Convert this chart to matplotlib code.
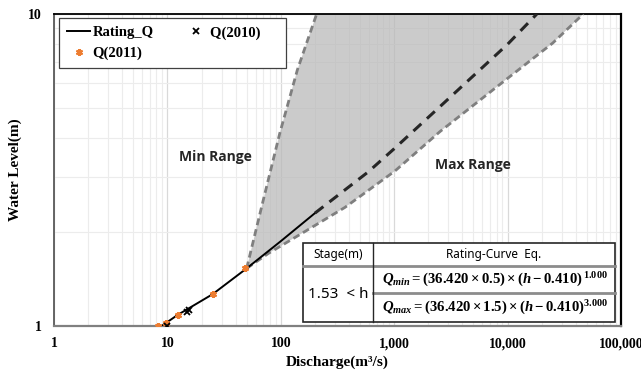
import numpy as np
import matplotlib
matplotlib.use('Agg')
import matplotlib.pyplot as plt
from matplotlib.ticker import FixedLocator, FixedFormatter, LogLocator, NullFormatter
from matplotlib.patches import Rectangle
from matplotlib.lines import Line2D

# ---------------- data ----------------
rating_Q = [8.9, 12.3, 25.0, 50.0, 100.0, 200.0]
rating_h = [1.0, 1.085, 1.264, 1.53, 1.87, 2.30]
rating_ext_Q = [200.0, 591.0, 1000.0, 2535.0, 10000.0, 18100.0]
rating_ext_h = [2.30, 3.12, 3.70, 5.05, 8.0, 10.0]
min_Q = [50.0, 70.0, 98.0, 140.0, 207.0]
min_h = [1.53, 2.53, 4.15, 6.62, 10.0]
max_Q = [50.0, 78.0, 153.0, 368.0, 1016.0, 2535.0, 10000.0, 25000.0, 46500.0]
max_h = [1.53, 1.71, 1.98, 2.40, 3.14, 4.20, 6.22, 8.07, 10.0]
q2010_Q = [10.0, 14.8, 15.6]
q2010_h = [1.0, 1.106, 1.125]
q2011_Q = [8.3, 9.7, 12.3, 25.1, 48.5]
q2011_h = [1.0, 1.02, 1.085, 1.264, 1.53]
x_ticks = [1, 10, 100, 1000, 10000, 100000]
x_tick_labels = ['1', '10', '100', '1,000', '10,000', '100,000']
y_ticks = [1, 10]
y_tick_labels = ['1', '10']
table_header = ['Stage(m)', 'Rating-Curve  Eq.']
table_stage = '1.53  < h'
eq_min = r'$Q_{min} = (36.420 \times 0.5) \times (h - 0.410)^{\,1.000}$'
eq_max = r'$Q_{max} = (36.420 \times 1.5) \times (h - 0.410)^{3.000}$'

# ---------------- style ----------------
plt.rcParams['mathtext.fontset'] = 'custom'
plt.rcParams['mathtext.rm'] = 'Liberation Serif:bold'
plt.rcParams['mathtext.bf'] = 'Liberation Serif:bold'
plt.rcParams['mathtext.it'] = 'Liberation Serif:italic:bold'

serif = 'Liberation Serif'
sans = 'Noto Sans'
sans_bold = ['Open Sans', 'DejaVu Sans']
orange = '#ED7D31'

fig = plt.figure(figsize=(6.41, 3.77), dpi=100)
ax = fig.add_axes([54/641, 51/377, 567/641, 312/377])
ax.set_xscale('log')
ax.set_yscale('log')
ax.set_xlim(1, 100000)
ax.set_ylim(1, 10)

# shaded range
ax.fill(np.concatenate([min_Q, max_Q[::-1]]), np.concatenate([min_h, max_h[::-1]]),
        color='#b8b8b8', alpha=0.72, lw=0, zorder=2)
ax.plot(min_Q, min_h, color='#7f7f7f', lw=2.0, ls=(0, (2.5, 1.5)), zorder=3)
ax.plot(max_Q, max_h, color='#7f7f7f', lw=2.0, ls=(0, (2.5, 1.5)), zorder=3)

# rating curve
l_rating, = ax.plot(rating_Q, rating_h, color='black', lw=1.4, zorder=4, label='Rating_Q')
ax.plot(rating_ext_Q, rating_ext_h, color='#262626', lw=2.2, ls=(0, (3.5, 2.5)), zorder=4)

m2010, = ax.plot(q2010_Q, q2010_h, ls='none', marker='x', color='black', ms=4.5, mew=1.3,
                 zorder=6, label='Q(2010)     ')
m2011, = ax.plot(q2011_Q, q2011_h, ls='none', marker=(6, 2, 0), color=orange, ms=5, mew=1.5,
                 zorder=5, label='Q(2011)')

# grid
ax.xaxis.set_major_locator(FixedLocator(x_ticks))
ax.xaxis.set_major_formatter(FixedFormatter(x_tick_labels))
ax.yaxis.set_major_locator(FixedLocator(y_ticks))
ax.yaxis.set_major_formatter(FixedFormatter(y_tick_labels))
ax.xaxis.set_minor_locator(LogLocator(base=10, subs=np.arange(2, 10)))
ax.yaxis.set_minor_locator(LogLocator(base=10, subs=np.arange(2, 10)))
ax.xaxis.set_minor_formatter(NullFormatter())
ax.yaxis.set_minor_formatter(NullFormatter())
ax.grid(which='major', color='#d9d9d9', lw=0.9, zorder=0)
ax.grid(which='minor', color='#ececec', lw=0.8, zorder=0)
ax.set_axisbelow(True)
ax.tick_params(which='both', length=0)
ax.tick_params(axis='x', pad=8)
ax.tick_params(axis='y', pad=9)
for lab in ax.get_xticklabels() + ax.get_yticklabels():
    lab.set_fontfamily(serif)
    lab.set_fontweight('bold')
    lab.set_fontsize(10)

ax.spines['top'].set_color('black')
ax.spines['right'].set_color('black')
ax.spines['top'].set_linewidth(1.3)
ax.spines['right'].set_linewidth(1.6)
ax.spines['left'].set_color('#595959')
ax.spines['left'].set_linewidth(1.3)
ax.spines['bottom'].set_color('#808080')
ax.spines['bottom'].set_linewidth(1.6)

ax.set_xlabel('Discharge(m³/s)', fontfamily=serif, fontweight='bold', fontsize=11)
ax.set_ylabel('Water Level(m)', fontfamily=serif, fontweight='bold', fontsize=11)
ax.xaxis.set_label_coords(0.5, -0.095)
ax.xaxis.label.set_va('top')
ax.yaxis.set_label_coords(-0.056, 0.5)

# legend
leg = ax.legend(handles=[l_rating, m2011, m2010], ncol=2, loc='upper left',
                bbox_to_anchor=(0.0088, 0.987), borderaxespad=0,
                prop={'family': serif, 'weight': 'bold', 'size': 10.5},
                fancybox=False, edgecolor='#404040', framealpha=1,
                handlelength=1.6, handletextpad=0.15, columnspacing=2.1,
                labelspacing=0.5, borderpad=0.55, numpoints=1)
leg.get_frame().set_linewidth(0.9)
leg.set_zorder(12)

# annotations
ax.text(0.284, 0.542, 'Min Range', transform=ax.transAxes, ha='center', va='center',
        fontfamily=sans_bold, fontweight='bold', fontsize=10, color='#262626', zorder=7)
ax.text(0.738, 0.516, 'Max Range', transform=ax.transAxes, ha='center', va='center',
        fontfamily=sans_bold, fontweight='bold', fontsize=10, color='#262626', zorder=7)

# table
tx0, tx1, tx2 = 0.439, 0.563, 0.989
ty0, ty1, ty2, ty3 = 0.013, 0.106, 0.192, 0.266
T = ax.transAxes
ax.add_patch(Rectangle((tx0, ty0), tx2 - tx0, ty3 - ty0, transform=T, facecolor='white',
                       edgecolor='#262626', lw=1.2, zorder=10))
ax.add_line(Line2D([tx0, tx2], [ty2, ty2], transform=T, color='#8c8c8c', lw=2.0, zorder=11))
ax.add_line(Line2D([tx1, tx2], [ty1, ty1], transform=T, color='#8c8c8c', lw=2.0, zorder=11))
ax.add_line(Line2D([tx1, tx1], [ty0, ty3], transform=T, color='#262626', lw=1.0, zorder=11))
ax.text((tx0 + tx1) / 2, (ty2 + ty3) / 2, table_header[0], transform=T, ha='center', va='center',
        fontfamily=sans, fontsize=8.5, color='black', zorder=12)
ax.text((tx1 + tx2) / 2, (ty2 + ty3) / 2, table_header[1], transform=T, ha='center', va='center',
        fontfamily=sans, fontsize=8.5, color='black', zorder=12)
ax.text((tx0 + tx1) / 2, (ty0 + ty2) / 2, table_stage, transform=T, ha='center', va='center',
        fontfamily=sans, fontsize=11, color='black', zorder=12)
ax.text(tx1 + 0.016, (ty1 + ty2) / 2, eq_min, transform=T, ha='left', va='center',
        fontsize=10.6, color='black', zorder=12)
ax.text(tx1 + 0.016, (ty0 + ty1) / 2, eq_max, transform=T, ha='left', va='center',
        fontsize=10.6, color='black', zorder=12)

fig.savefig('out.png', dpi=100)
